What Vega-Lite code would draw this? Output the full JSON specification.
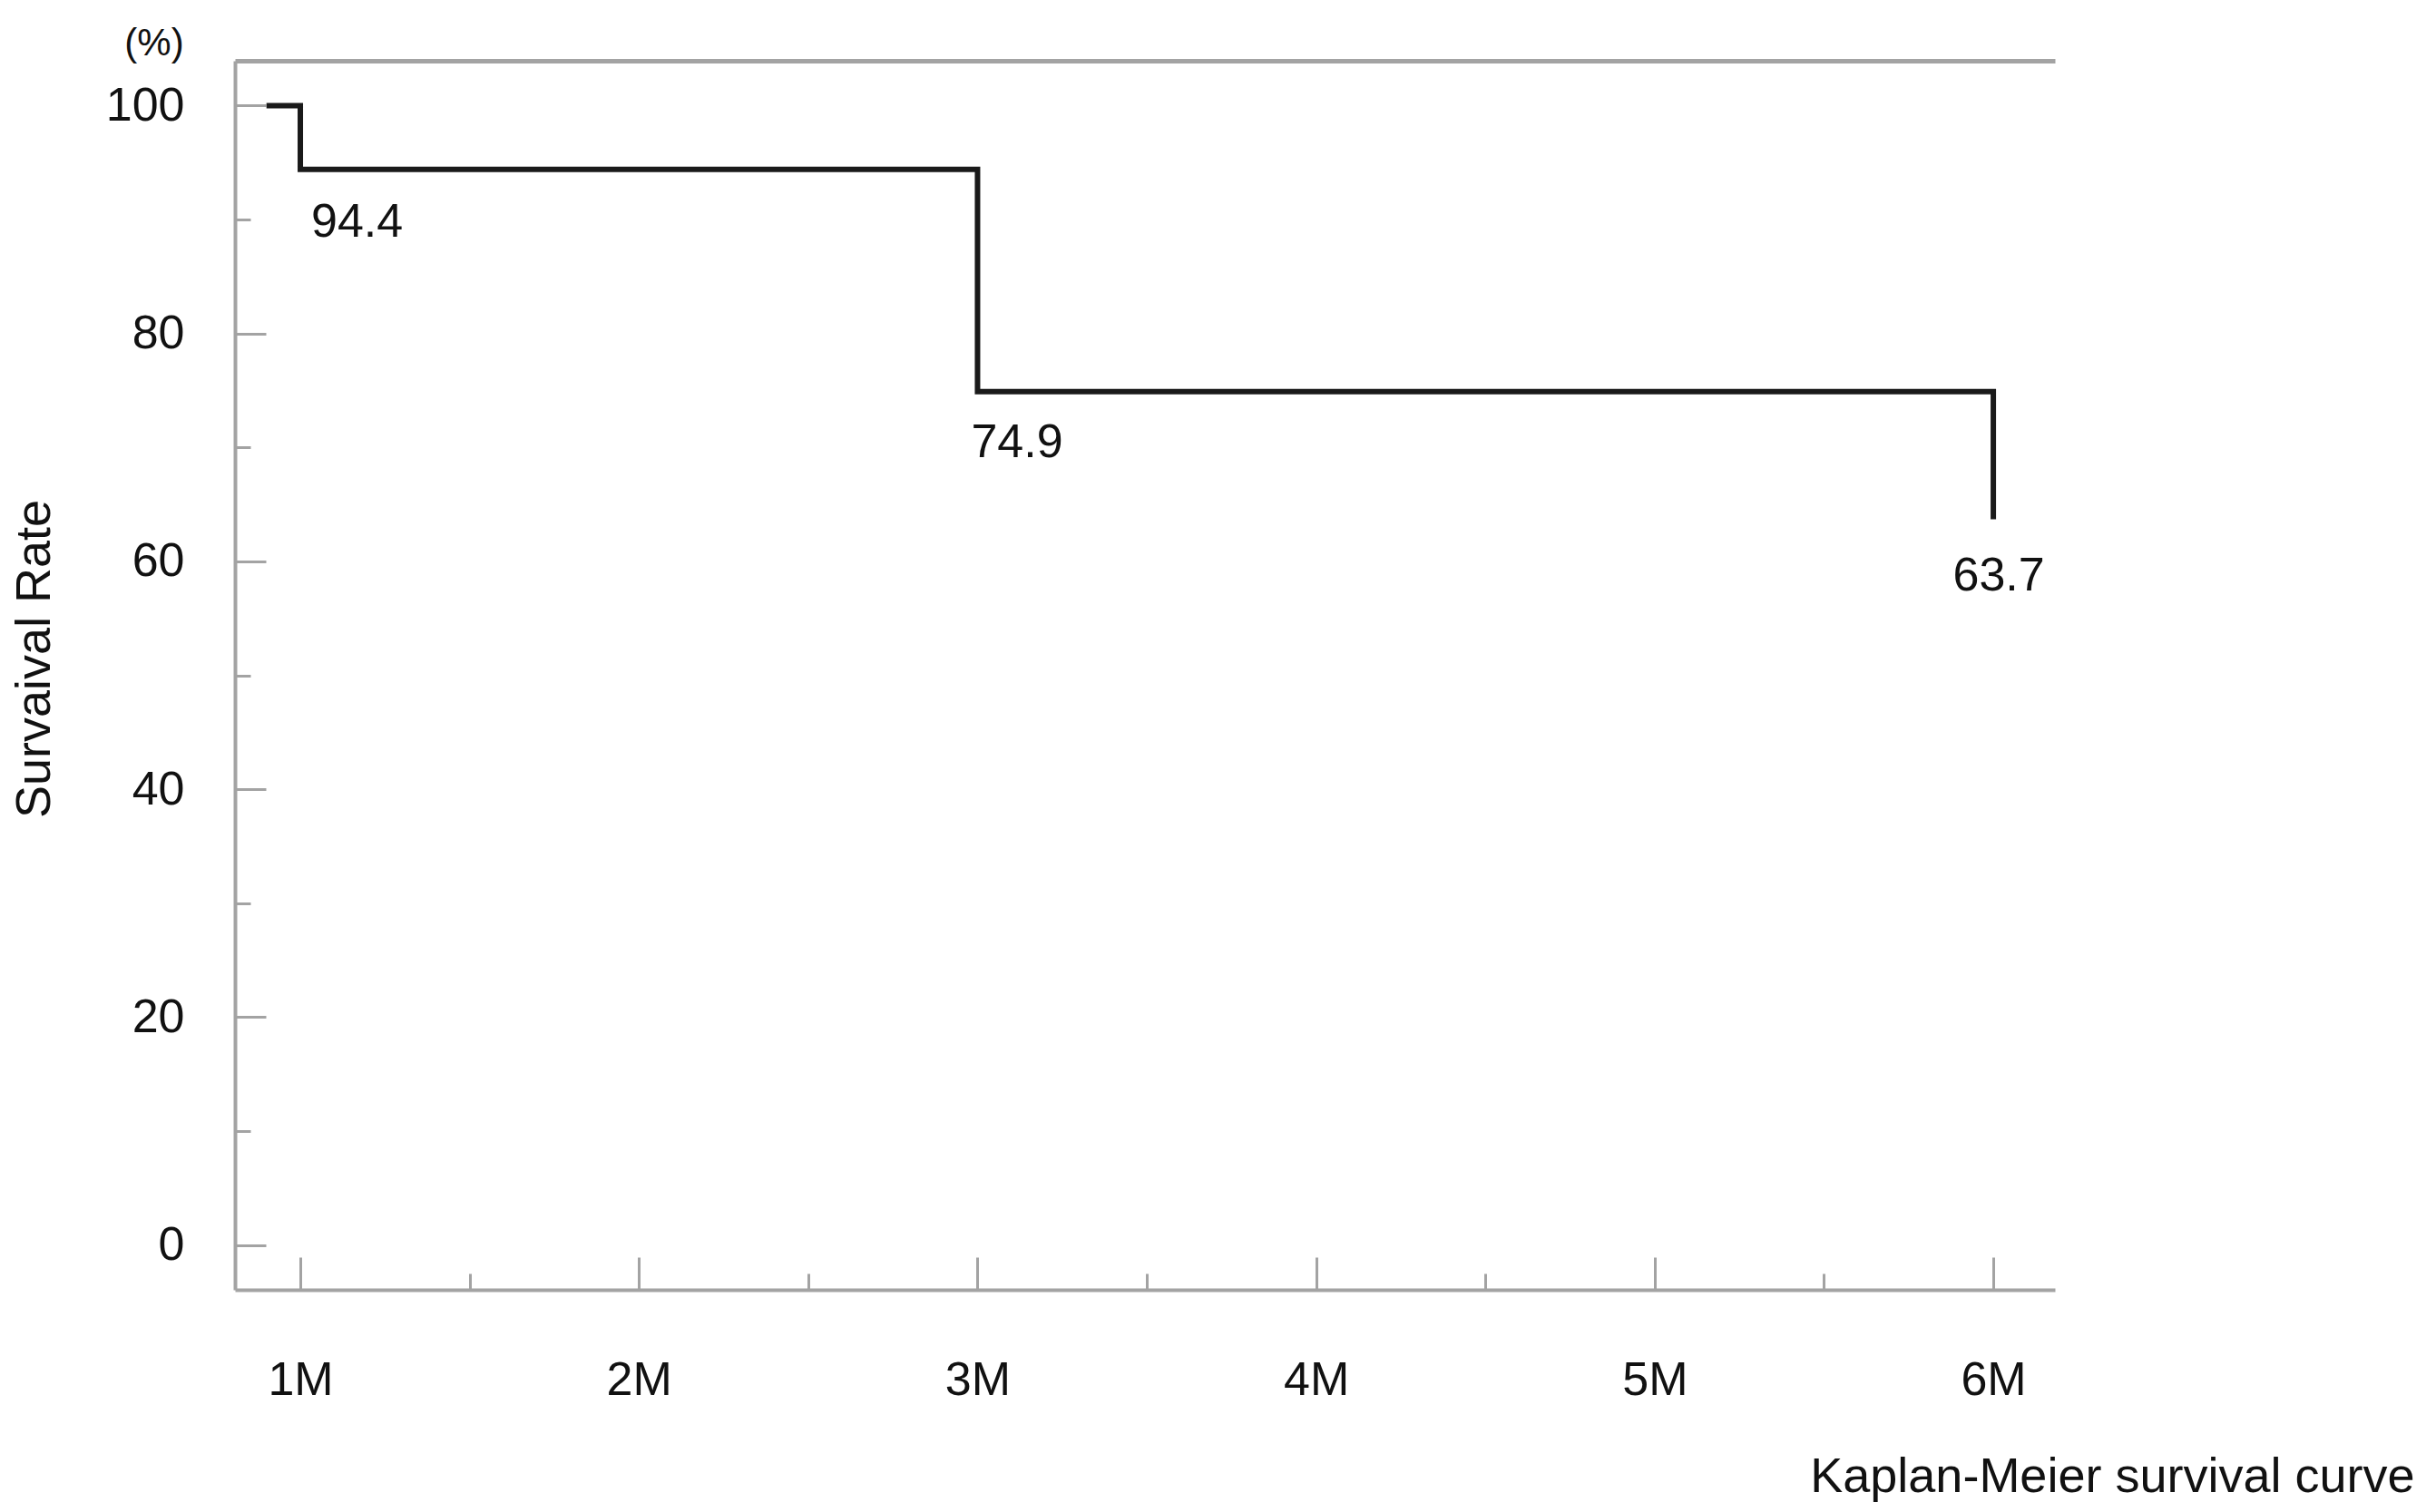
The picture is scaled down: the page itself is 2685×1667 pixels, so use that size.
{
  "$schema": "https://vega.github.io/schema/vega-lite/v6.json",
  "width": 2006,
  "height": 1355,
  "autosize": "none",
  "padding": {"left": 259, "top": 67, "right": 420, "bottom": 245},
  "background": "white",
  "config": {
    "view": {"stroke": null},
    "font": "Liberation Sans",
    "title": {"font": "Liberation Sans", "fontWeight": "normal"}
  },
  "title": {
    "text": "(%)",
    "anchor": "start",
    "frame": "group",
    "align": "center",
    "dx": -89,
    "dy": 33,
    "offset": 4,
    "fontSize": 42,
    "fontWeight": "normal",
    "color": "#111"
  },
  "data": {
    "values": [
      {"month": 0.9, "surv": 100},
      {"month": 1, "surv": 94.4},
      {"month": 3, "surv": 74.9},
      {"month": 6, "surv": 63.7}
    ]
  },
  "encoding": {
    "x": {
      "field": "month",
      "type": "quantitative",
      "scale": {"domain": [0.807, 6.182], "nice": false, "zero": false},
      "axis": {
        "orient": "bottom",
        "values": [1, 1.5, 2, 2.5, 3, 3.5, 4, 4.5, 5, 5.5, 6],
        "labelExpr": "datum.value % 1 === 0 ? datum.value + 'M' : ''",
        "grid": false,
        "domainColor": "#a3a3a3",
        "domainWidth": 4,
        "tickColor": "#a3a3a3",
        "tickWidth": 3,
        "tickSize": {"condition": {"test": "datum.value % 1 === 0", "value": -36}, "value": -18},
        "labelFontSize": 52,
        "labelColor": "#111",
        "labelBaseline": "middle",
        "labelPadding": 135,
        "labelFlush": false,
        "labelOverlap": false,
        "title": "Kaplan-Meier survival curve",
        "titleFontSize": 54,
        "titleFontWeight": "normal",
        "titleColor": "#111",
        "titleAnchor": "start",
        "titleAlign": "right",
        "titleBaseline": "middle",
        "titleX": 2402,
        "titleY": 206
      }
    },
    "y": {
      "field": "surv",
      "type": "quantitative",
      "scale": {"domain": [-3.94, 103.94], "nice": false, "zero": false},
      "axis": {
        "values": [0, 10, 20, 30, 40, 50, 60, 70, 80, 90, 100, 103.94],
        "labelExpr": "datum.value % 20 === 0 ? datum.label : ''",
        "grid": true,
        "gridColor": "#a3a3a3",
        "gridWidth": 5,
        "gridOpacity": {"condition": {"test": "datum.value > 101", "value": 1}, "value": 0},
        "tickOpacity": {"condition": {"test": "datum.value > 101", "value": 0}, "value": 1},
        "domainColor": "#a3a3a3",
        "domainWidth": 4,
        "tickColor": "#a3a3a3",
        "tickWidth": 3,
        "tickSize": {"condition": {"test": "datum.value % 20 === 0", "value": -34}, "value": -17},
        "labelFontSize": 52,
        "labelColor": "#111",
        "labelPadding": 90,
        "labelFlush": false,
        "labelOverlap": false,
        "title": "Survaival Rate",
        "titleFontSize": 54,
        "titleFontWeight": "normal",
        "titleColor": "#111",
        "titleAngle": -90,
        "titleAlign": "center",
        "titleBaseline": "middle",
        "titleX": -221,
        "titleY": 659
      }
    }
  },
  "layer": [
    {
      "mark": {"type": "line", "interpolate": "step-after", "color": "#1a1a1a", "strokeWidth": 6}
    },
    {
      "transform": [{"filter": "datum.month == 1"}],
      "mark": {"type": "text", "align": "left", "baseline": "middle", "dx": 12, "dy": 58, "fontSize": 52, "color": "#111"},
      "encoding": {"text": {"field": "surv", "type": "quantitative", "format": ".1f"}}
    },
    {
      "transform": [{"filter": "datum.month == 3"}],
      "mark": {"type": "text", "align": "left", "baseline": "middle", "dx": -7, "dy": 56, "fontSize": 52, "color": "#111"},
      "encoding": {"text": {"field": "surv", "type": "quantitative", "format": ".1f"}}
    },
    {
      "transform": [{"filter": "datum.month == 6"}],
      "mark": {"type": "text", "align": "center", "baseline": "middle", "dx": 6, "dy": 63, "fontSize": 52, "color": "#111"},
      "encoding": {"text": {"field": "surv", "type": "quantitative", "format": ".1f"}}
    }
  ]
}
